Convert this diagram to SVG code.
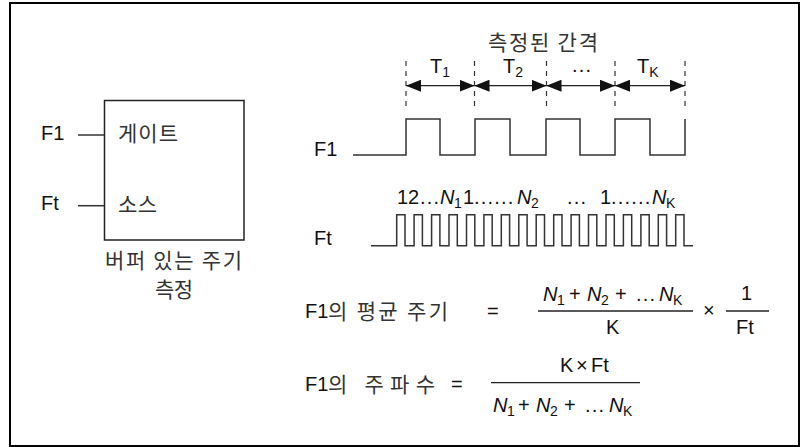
<svg xmlns="http://www.w3.org/2000/svg" width="801" height="447" viewBox="0 0 801 447">
<defs>
<style>
text{font-family:"Liberation Sans","Noto Sans CJK KR",sans-serif;fill:#111;font-size:20px}
.ko{font-family:"Noto Sans CJK KR","Liberation Sans",sans-serif;fill:#333;font-size:21px}
.i{font-style:italic}
.s{font-size:14px}
.dt{letter-spacing:1.2px}
.w{fill:none;stroke:#333;stroke-width:1.5}
.d{fill:none;stroke:#333;stroke-width:1.2;stroke-dasharray:5 5}
.a{fill:none;stroke:#222;stroke-width:1.3}
.f{fill:none;stroke:#222;stroke-width:1.3}
</style>
<marker id="ah" viewBox="0 0 15 12" refX="15" refY="6" markerWidth="15" markerHeight="12" markerUnits="userSpaceOnUse" orient="auto-start-reverse">
<path d="M0,0 L15,6 L0,12 z" fill="#111"/>
</marker>
</defs>
<rect x="10" y="3" width="789" height="443" fill="#fff" stroke="#000" stroke-width="2"/>

<g id="counter">
<rect x="104.5" y="100.5" width="139.5" height="139.5" fill="none" stroke="#222" stroke-width="1.5"/>
<text class="ko" x="118" y="141" textLength="60">게이트</text>
<text class="ko" x="118" y="212" textLength="39">소스</text>
<text class="ko" x="105" y="268" textLength="137">버퍼 있는 주기</text>
<text class="ko" x="155" y="297" textLength="38">측정</text>
</g>
<g id="inputs">
<text x="41" y="140">F1</text>
<text x="41" y="210">Ft</text>
</g>

<g id="connectors">
<line x1="78" y1="135" x2="104" y2="135" class="w"/>
<line x1="78" y1="205.7" x2="104" y2="205.7" class="w"/>
</g>

<g id="intervals">
<text class="ko" x="488" y="50" textLength="110">측정된 간격</text>
<line class="d" x1="406" y1="61" x2="406" y2="111"/>
<line class="d" x1="474.5" y1="61" x2="474.5" y2="111"/>
<line class="d" x1="546.5" y1="61" x2="546.5" y2="111"/>
<line class="d" x1="615" y1="61" x2="615" y2="111"/>
<line class="d" x1="685" y1="61" x2="685" y2="111"/>
<line class="a" x1="406" y1="85.7" x2="474.5" y2="85.7" marker-start="url(#ah)" marker-end="url(#ah)"/>
<line class="a" x1="474.5" y1="85.7" x2="546.5" y2="85.7" marker-start="url(#ah)" marker-end="url(#ah)"/>
<line class="a" x1="546.5" y1="85.7" x2="615" y2="85.7" marker-start="url(#ah)" marker-end="url(#ah)"/>
<line class="a" x1="615" y1="85.7" x2="685" y2="85.7" marker-start="url(#ah)" marker-end="url(#ah)"/>
<text x="430" y="73">T<tspan class="s" dy="4">1</tspan></text>
<text x="503" y="73">T<tspan class="s" dy="4">2</tspan></text>
<text x="572" y="72" class="dt">...</text>
<text x="637" y="73">T<tspan class="s" dy="4">K</tspan></text>
</g>

<g id="f1-wave">
<text x="314" y="156">F1</text>
<path class="w" d="M353,155 H406 V119 H440 V155 H475 V119 H510 V155 H546 V119 H580 V155 H615 V119 H650 V155 H685 V119"/>
</g>

<g id="ft-wave">
<text x="314" y="245">Ft</text>
<text y="204"><tspan x="397">12</tspan><tspan x="420" class="dt">...</tspan><tspan class="i" x="440">N</tspan><tspan class="s" x="454" dy="4">1</tspan><tspan x="463" dy="-4">1</tspan><tspan x="474" class="dt">......</tspan><tspan class="i" x="517">N</tspan><tspan class="s" x="531" dy="4">2</tspan><tspan x="567" dy="-4" class="dt">...</tspan><tspan x="600">1</tspan><tspan x="611" class="dt">......</tspan><tspan class="i" x="652">N</tspan><tspan class="s" x="666" dy="4">K</tspan></text>
<path class="w" d="M371,245.7 H396.7 V214.7 H405 V245.7 H414.1 V214.7 H422.4 V245.7 H431.6 V214.7 H439.9 V245.7 H449 V214.7 H457.3 V245.7 H466.5 V214.7 H474.8 V245.7 H483.9 V214.7 H492.2 V245.7 H501.3 V214.7 H509.6 V245.7 H518.8 V214.7 H527.1 V245.7 H536.2 V214.7 H544.5 V245.7 H553.7 V214.7 H562 V245.7 H571.1 V214.7 H579.4 V245.7 H588.5 V214.7 H596.8 V245.7 H606 V214.7 H614.3 V245.7 H623.4 V214.7 H631.7 V245.7 H640.9 V214.7 H649.2 V245.7 H658.3 V214.7 H666.6 V245.7 H675.7 V214.7 H684 V245.7 H693"/>
</g>

<g id="formula-period">
<text x="305" y="318">F1</text>
<text class="ko" x="328" y="319" textLength="120">의 평균 주기</text>
<text x="487" y="318">=</text>
<text y="301"><tspan class="i" x="543">N</tspan><tspan class="s" x="557" dy="4">1</tspan><tspan x="569" dy="-4">+</tspan><tspan class="i" x="587">N</tspan><tspan class="s" x="601" dy="4">2</tspan><tspan x="615" dy="-4">+</tspan><tspan x="636" class="dt">...</tspan><tspan class="i" x="659">N</tspan><tspan class="s" x="673" dy="4">K</tspan></text>
<line class="f" x1="538" y1="311" x2="693" y2="311"/>
<text x="606" y="334">K</text>
<text x="703" y="317">×</text>
<text x="741" y="300">1</text>
<line class="f" x1="726" y1="311" x2="769" y2="311"/>
<text x="736" y="334">Ft</text>
</g>

<g id="formula-frequency">
<text x="305" y="391">F1</text>
<text class="ko" x="328" y="392" textLength="107">의 주파수</text>
<text x="451" y="391">=</text>
<text x="560" y="372">K<tspan x="576">×</tspan><tspan x="591">Ft</tspan></text>
<line class="f" x1="491" y1="382.7" x2="640" y2="382.7"/>
<text y="412"><tspan class="i" x="493">N</tspan><tspan class="s" x="507" dy="4">1</tspan><tspan x="518" dy="-4">+</tspan><tspan class="i" x="536">N</tspan><tspan class="s" x="550" dy="4">2</tspan><tspan x="564" dy="-4">+</tspan><tspan x="585" class="dt">...</tspan><tspan class="i" x="609">N</tspan><tspan class="s" x="623" dy="4">K</tspan></text>
</g>
</svg>
